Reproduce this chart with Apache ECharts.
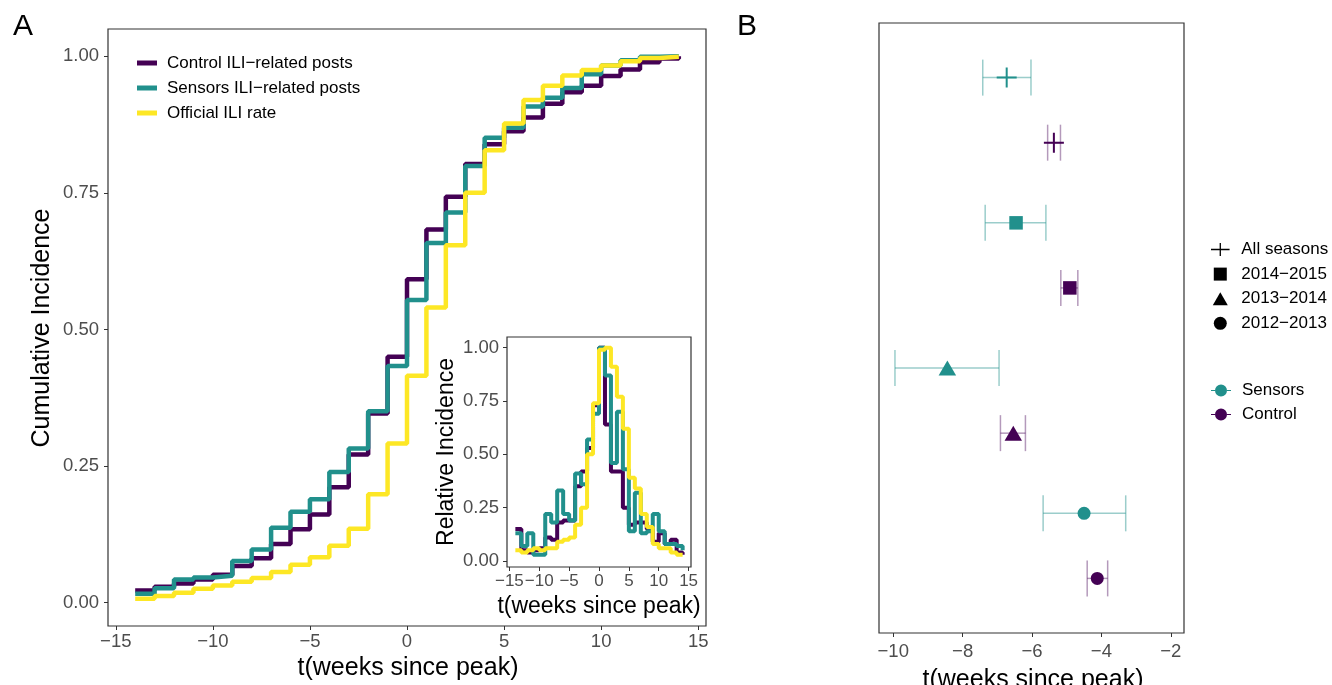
<!DOCTYPE html>
<html><head><meta charset="utf-8">
<script src="https://cdn.jsdelivr.net/npm/echarts@6/dist/echarts.min.js"></script>
<style>html,body{margin:0;padding:0;background:#fff}#c{width:1332px;height:685px}</style>
</head><body><div id="c"></div>
<script>
// ---------- Panel A data ----------
const weeks = [-14,-13,-12,-11,-10,-9,-8,-7,-6,-5,-4,-3,-2,-1,0,1,2,3,4,5,6,7,8,9,10,11,12,13,14];
const controlCum = [0.022,0.029,0.035,0.042,0.051,0.067,0.081,0.107,0.134,0.161,0.211,0.271,0.346,0.450,0.592,0.683,0.743,0.803,0.839,0.863,0.888,0.913,0.934,0.946,0.964,0.976,0.989,0.996,1.000];
const sensorsCum = [0.016,0.026,0.042,0.046,0.049,0.076,0.097,0.137,0.166,0.189,0.239,0.282,0.350,0.433,0.554,0.658,0.714,0.799,0.851,0.869,0.908,0.924,0.942,0.967,0.983,0.993,0.999,1.000,1.000];
const officialCum = [0.007,0.012,0.018,0.025,0.031,0.038,0.045,0.056,0.069,0.083,0.104,0.135,0.198,0.291,0.415,0.540,0.654,0.750,0.828,0.877,0.920,0.946,0.965,0.975,0.983,0.991,0.997,0.999,1.000];
// inset: relative incidence
const controlRel = [0.15,0.05,0.04,0.05,0.06,0.11,0.10,0.18,0.19,0.19,0.35,0.42,0.53,0.73,1.00,0.64,0.42,0.42,0.25,0.17,0.18,0.18,0.15,0.09,0.13,0.08,0.10,0.04,0.03];
const sensorsRel = [0.13,0.07,0.13,0.03,0.03,0.22,0.18,0.33,0.22,0.19,0.41,0.36,0.57,0.69,1.00,0.87,0.46,0.70,0.43,0.14,0.32,0.13,0.14,0.22,0.14,0.08,0.08,0.07,0.05];
const officialRel = [0.05,0.04,0.05,0.06,0.05,0.06,0.06,0.09,0.10,0.11,0.17,0.25,0.50,0.74,0.99,1.00,0.91,0.77,0.62,0.39,0.34,0.22,0.16,0.08,0.06,0.06,0.04,0.03,0.03];
const seriesNamesA = ['Control ILI\u2212related posts','Sensors ILI\u2212related posts','Official ILI rate'];
const xTicksA = [-15,-10,-5,0,5,10,15];
const yTicksA = [0,0.25,0.5,0.75,1];
const xTitle = 't(weeks since peak)';
const yTitleMain = 'Cumulative Incidence';
const yTitleInset = 'Relative Incidence';

// ---------- Panel B data ----------
const seasons = ['All seasons','2014\u22122015','2013\u22122014','2012\u22122013'];
const sensorsMean = [-6.73,-6.46,-8.44,-4.50];
const sensorsLow  = [-7.42,-7.35,-9.95,-5.68];
const sensorsHigh = [-6.03,-5.60,-6.95,-3.30];
const controlMean = [-5.37,-4.91,-6.54,-4.12];
const controlLow  = [-5.55,-5.17,-6.91,-4.41];
const controlHigh = [-5.18,-4.68,-6.19,-3.82];
const groupNames = ['Sensors','Control'];
const xTicksB = [-10,-8,-6,-4,-2];

// ---------- styling ----------
const PURPLE = '#440154', TEAL = '#21908C', YELLOW = '#FDE725';
const colorsA = [PURPLE, TEAL, YELLOW];
const FONT = 'Liberation Sans, Arial, Helvetica, sans-serif';
const minus = v => String(v).replace('-', '\u2212');
const dodge = 0.224;
const TICKFS = 18.5;

const cumArr = [controlCum, sensorsCum, officialCum];
const relArr = [controlRel, sensorsRel, officialRel];

const series = [];
cumArr.forEach((arr, i) => {
  series.push({
    type: 'line', name: seriesNamesA[i], xAxisIndex: 0, yAxisIndex: 0, step: 'end',
    data: weeks.map((w, k) => [w, arr[k]]), showSymbol: false, symbol: 'none',
    lineStyle: {color: colorsA[i], width: 4.5}, itemStyle: {color: colorsA[i]}, z: 2 + i
  });
});
relArr.forEach((arr, i) => {
  series.push({
    type: 'line', name: seriesNamesA[i], xAxisIndex: 1, yAxisIndex: 1, step: 'end',
    data: weeks.map((w, k) => [w, arr[k]]), showSymbol: false, symbol: 'none',
    lineStyle: {color: colorsA[i], width: 4}, itemStyle: {color: colorsA[i]}, z: 12 + i
  });
});

// error bars panel B
function errRender(params, api) {
  const y = api.value(0), lo = api.value(1), hi = api.value(2);
  const a = api.coord([lo, y]), b = api.coord([hi, y]);
  const h = 18;
  const style = {stroke: api.visual('color'), lineWidth: 1.5, fill: null};
  return {type: 'group', children: [
    {type: 'line', shape: {x1: a[0], y1: a[1], x2: b[0], y2: b[1]}, style: style},
    {type: 'line', shape: {x1: a[0], y1: a[1] - h, x2: a[0], y2: a[1] + h}, style: style},
    {type: 'line', shape: {x1: b[0], y1: b[1] - h, x2: b[0], y2: b[1] + h}, style: style}
  ]};
}
const ebColors = ['rgba(33,144,140,0.45)', 'rgba(68,1,84,0.4)'];
const lows = [sensorsLow, controlLow], highs = [sensorsHigh, controlHigh], means = [sensorsMean, controlMean];
const offs = [-dodge, dodge];
[0,1].forEach(g => {
  series.push({
    type: 'custom', name: groupNames[g], xAxisIndex: 2, yAxisIndex: 2,
    renderItem: errRender, encode: {x: [1, 2], y: 0},
    itemStyle: {color: ebColors[g]},
    data: seasons.map((s, i) => [i + offs[g], lows[g][i], highs[g][i]]), z: 5
  });
});
const PLUS = 'path://M-1,-10 L1,-10 L1,10 L-1,10 Z M-10,-1 L10,-1 L10,1 L-10,1 Z';
const shapeSymbols = [PLUS, 'rect', 'triangle', 'circle'];
const shapeSizes = [20, 13.5, [17.5, 15], 13];
seasons.forEach((s, i) => {
  series.push({
    type: 'scatter', name: s, xAxisIndex: 2, yAxisIndex: 2,
    symbol: shapeSymbols[i], symbolSize: shapeSizes[i],
    itemStyle: {color: '#000', opacity: 1},
    data: [0, 1].map(g => ({value: [means[g][i], i + offs[g]], itemStyle: {color: g === 0 ? TEAL : PURPLE}})),
    z: 10
  });
});

const axisCommon = {
  splitLine: {show: false}, axisLine: {show: false, onZero: false}
};
const tickStyle = {show: true, length: 4, lineStyle: {color: '#333', width: 1}};
const lbl = (vals, fmt, fs, margin) => ({customValues: vals, formatter: fmt, color: '#4d4d4d', fontSize: fs,
  margin: margin, fontFamily: FONT, hideOverlap: false});

const LEG_PLUS = 'path://M-0.7,-7 L0.7,-7 L0.7,7 L-0.7,7 Z M-10,-0.7 L10,-0.7 L10,0.7 L-10,0.7 Z';
const LEG_SQ = 'path://M-6,-6 L6,-6 L6,6 L-6,6 Z';
const LEG_TRI = 'path://M0,-6.5 L7.5,6.5 L-7.5,6.5 Z';
const LEG_CIR = 'path://M0,-6 A6,6 0 1 1 0,6 A6,6 0 1 1 0,-6 Z';
const LEG_PT = 'path://M-10,-0.6 L-6,-0.6 L-6,0.6 L-10,0.6 Z M6,-0.6 L10,-0.6 L10,0.6 L6,0.6 Z M0,-6 A6,6 0 1 1 0,6 A6,6 0 1 1 0,-6 Z';
const legShapeIcons = [LEG_PLUS, LEG_SQ, LEG_TRI, LEG_CIR];

const titleText = (txt, x, y, fs, rot) => ({type: 'text', x: x, y: y, rotation: rot || 0, z: 20,
  style: {text: txt, fontSize: fs, fill: '#000', fontFamily: FONT, align: 'center', verticalAlign: 'middle'}});

const option = {
  animation: false,
  backgroundColor: '#fff',
  textStyle: {fontFamily: FONT},
  grid: [
    {left: 108, top: 29, width: 598, height: 597, show: true, borderColor: '#333', borderWidth: 1.2, backgroundColor: 'transparent'},
    {left: 507, top: 337, width: 184, height: 230, show: true, borderColor: '#333', borderWidth: 1.2, backgroundColor: '#fff', z: 8},
    {left: 879, top: 23, width: 305, height: 610, show: true, borderColor: '#333', borderWidth: 1.2, backgroundColor: 'transparent'}
  ],
  xAxis: [
    Object.assign({type: 'value', gridIndex: 0, min: -15.4, max: 15.4,
      axisTick: Object.assign({customValues: xTicksA}, tickStyle),
      axisLabel: lbl(xTicksA, minus, TICKFS, 6)}, axisCommon),
    Object.assign({type: 'value', gridIndex: 1, min: -15.4, max: 15.4, z: 9,
      axisTick: Object.assign({customValues: xTicksA}, tickStyle),
      axisLabel: lbl(xTicksA, minus, 17, 6)}, axisCommon),
    Object.assign({type: 'value', gridIndex: 2, min: -10.41, max: -1.62,
      axisTick: Object.assign({customValues: xTicksB}, tickStyle),
      axisLabel: lbl(xTicksB, minus, TICKFS, 9)}, axisCommon)
  ],
  yAxis: [
    Object.assign({type: 'value', gridIndex: 0, min: -0.043, max: 1.05,
      axisTick: Object.assign({customValues: yTicksA}, tickStyle),
      axisLabel: lbl(yTicksA, v => v.toFixed(2), TICKFS, 9)}, axisCommon),
    Object.assign({type: 'value', gridIndex: 1, min: -0.028, max: 1.05, z: 9,
      axisTick: Object.assign({customValues: yTicksA}, tickStyle),
      axisLabel: lbl(yTicksA, v => v.toFixed(2), TICKFS, 8)}, axisCommon),
    Object.assign({type: 'value', gridIndex: 2, min: -0.6, max: 3.6, inverse: true,
      axisTick: {show: false}, axisLabel: {show: false}}, axisCommon)
  ],
  legend: [
    {data: seriesNamesA, orient: 'vertical', left: 137, top: 54.5, padding: 0, itemWidth: 20, itemHeight: 5, itemGap: 8,
      icon: 'rect', selectedMode: false,
      textStyle: {fontSize: 17, color: '#000', lineHeight: 15, padding: [0, 0, 0, 5], fontFamily: FONT}},
    {data: seasons.map((s, i) => ({name: s, icon: legShapeIcons[i], itemStyle: {color: '#000'}})),
      orient: 'vertical', left: 1211, top: 241, padding: 0, itemWidth: 20, itemHeight: 13, itemGap: 7.6, selectedMode: false,
      textStyle: {fontSize: 17, color: '#000', lineHeight: 14, padding: [0, 0, 0, 6], fontFamily: FONT}},
    {data: groupNames.map((n, g) => ({name: n, icon: LEG_PT, itemStyle: {color: g === 0 ? TEAL : PURPLE}})),
      orient: 'vertical', left: 1211, top: 382, padding: 0, itemWidth: 20, itemHeight: 13, itemGap: 7, selectedMode: false,
      textStyle: {fontSize: 17, color: '#000', lineHeight: 14, padding: [0, 0, 0, 6], fontFamily: FONT}}
  ],
  graphic: [
    {type: 'text', left: 13, top: 12, style: {text: 'A', fontSize: 30, fill: '#000', fontFamily: FONT}},
    {type: 'text', left: 737, top: 12, style: {text: 'B', fontSize: 30, fill: '#000', fontFamily: FONT}},
    titleText(xTitle, 408, 668, 25),
    titleText(yTitleMain, 42, 328, 25, Math.PI / 2),
    titleText(xTitle, 599, 607, 23),
    titleText(yTitleInset, 447, 452, 23, Math.PI / 2),
    titleText(xTitle, 1033, 680, 25)
  ],
  series: series
};
const chart = echarts.init(document.getElementById('c'));
chart.setOption(option);
</script>
</body></html>
